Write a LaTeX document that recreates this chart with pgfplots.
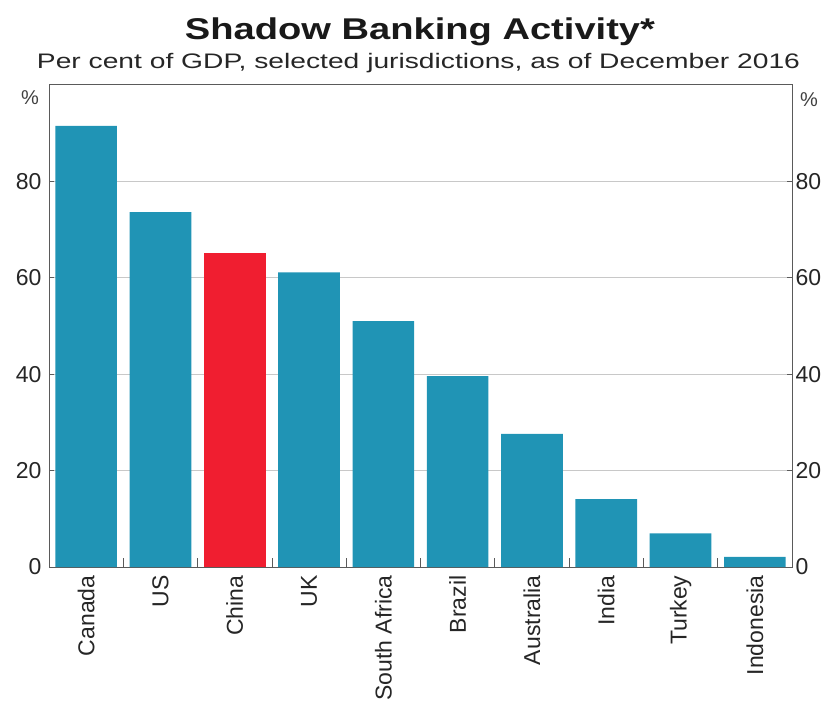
\documentclass[border=0pt]{standalone}
\usepackage{pgfplots}
\pgfplotsset{compat=1.18}
\usepackage{fontspec}
\setmainfont{Liberation Sans}
\usepackage{graphicx}
\definecolor{barblue}{RGB}{32,148,181}
\definecolor{barred}{RGB}{240,30,48}
\definecolor{axgray}{RGB}{90,90,90}
\definecolor{gridgray}{RGB}{200,200,200}
\begin{document}
\begin{tikzpicture}
\path[use as bounding box] (0,0) rectangle (827bp,705bp);
\begin{axis}[
  at={(49bp,138bp)}, anchor=south west,
  scale only axis, width=743bp, height=482bp,
  xmin=-0.5, xmax=9.5, ymin=0, ymax=100,
  axis line style={axgray, line width=1pt},
  ytick={0,20,40,60,80},
  ymajorgrids, major grid style={gridgray, line width=0.8pt},
  ytick pos=left, yticklabel style={font=\fontsize{23bp}{26bp}\selectfont, text=black!85},
  yticklabel style={xshift=-4bp},
  major tick length=5bp,
  tick style={axgray, line width=0.8pt},
  xtick={0,...,9},
  xtick pos=bottom,
  xticklabels={Canada,US,China,UK,South Africa,Brazil,Australia,India,Turkey,Indonesia},
  xticklabel style={rotate=90, anchor=east, font=\fontsize{23bp}{26bp}\selectfont, text=black!85, yshift=0bp},
  x tick style={draw=none},
  minor xtick={0.5,1.5,...,8.5},
  minor tick length=9bp,
  minor x tick style={axgray, line width=0.8pt, draw=axgray, yshift=9bp},
  /pgf/number format/assume math mode=true,
  ybar, bar width=0.83, bar shift=0pt,
  clip=false,
]
\addplot[fill=barblue, draw=none] coordinates {(0,91.5) (1,73.6) (3,61.1) (4,51.0) (5,39.6) (6,27.6) (7,14.1) (8,7.0) (9,2.1)};
\addplot[fill=barred, draw=none] coordinates {(2,65.1)};
\end{axis}
\begin{axis}[
  at={(49bp,138bp)}, anchor=south west,
  scale only axis, width=743bp, height=482bp,
  xmin=-0.5, xmax=9.5, ymin=0, ymax=100,
  axis x line=none, axis y line*=right,
  axis line style={axgray, line width=1pt},
  ytick={0,20,40,60,80},
  major tick length=5bp,
  tick style={axgray, line width=0.8pt},
  yticklabel style={font=\fontsize{23bp}{26bp}\selectfont, text=black!85, xshift=0bp},
  /pgf/number format/assume math mode=true,
]
\addplot[draw=none] coordinates {(0,0)};
\end{axis}
\node[font=\fontsize{20bp}{24bp}\selectfont, text=black!75] at (30bp,607bp) {\%};
\node[font=\fontsize{20bp}{24bp}\selectfont, text=black!75] at (809bp,605bp) {\%};
\node[anchor=base, text=black!90] at (420bp,665bp) {\resizebox{470bp}{\height}{\fontsize{30bp}{36bp}\selectfont\bfseries Shadow Banking Activity*}};
\node[anchor=base, text=black!85] at (418.5bp,636bp) {\resizebox{763bp}{\height}{\fontsize{21bp}{25bp}\selectfont Per cent of GDP, selected jurisdictions, as of December 2016}};
\end{tikzpicture}
\end{document}
